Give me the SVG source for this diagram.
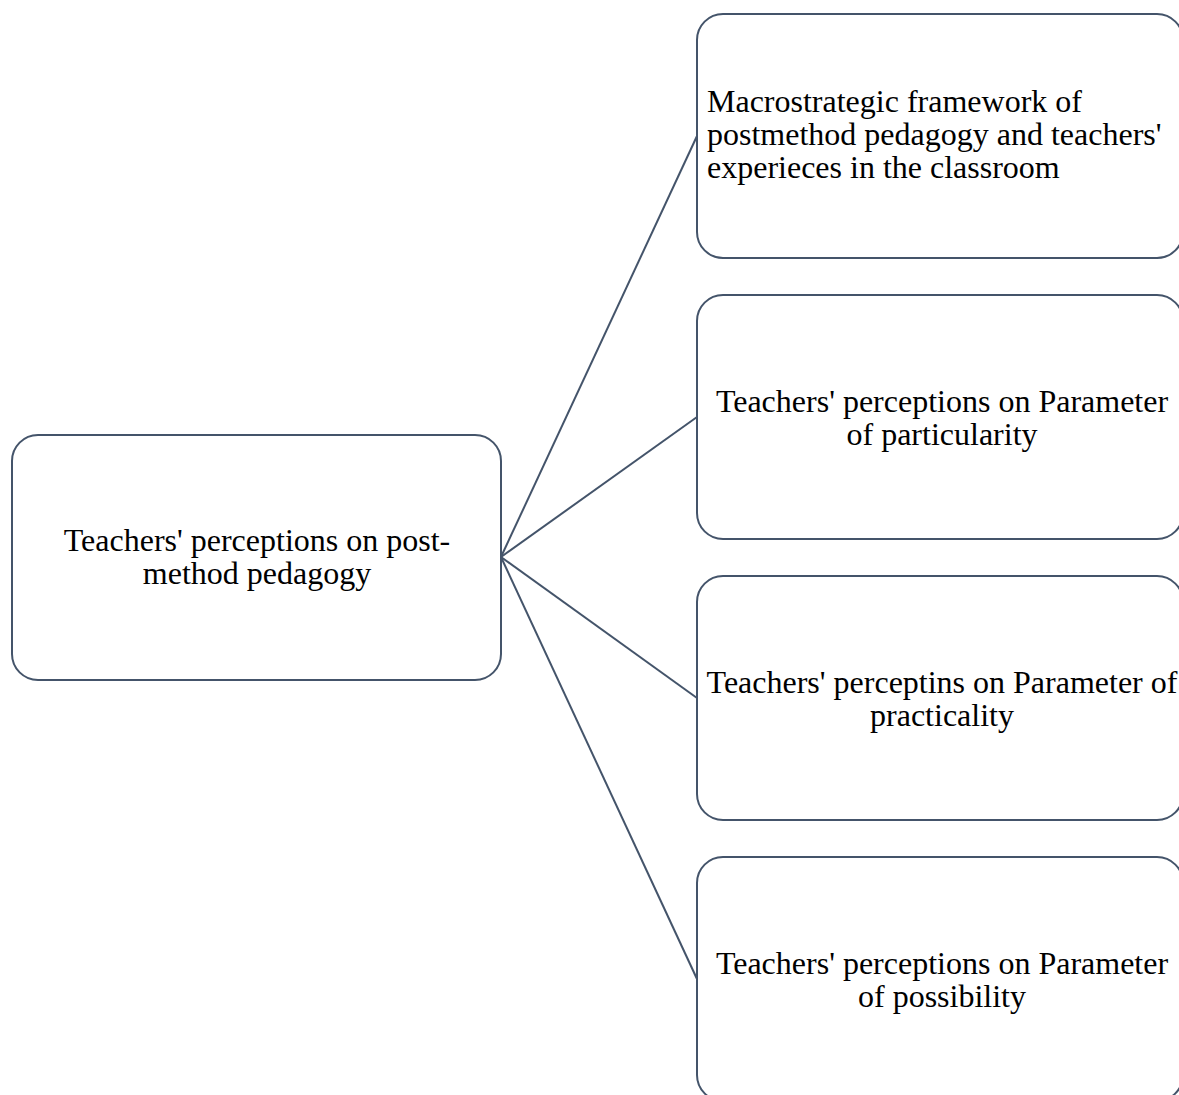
<svg xmlns="http://www.w3.org/2000/svg" width="1179" height="1095" viewBox="0 0 1179 1095">
<style>
.box{fill:#fff;stroke:#44546a;stroke-width:2}
.t{font-family:"Liberation Serif","Times New Roman",serif;font-size:32px;fill:#000}
.c{text-anchor:middle}
.ln{stroke:#44546a;stroke-width:2;fill:none}
</style>
<rect width="1179" height="1095" fill="#fff"/>
<g id="connectors">
<line class="ln" x1="501" y1="557" x2="697" y2="136"/>
<line class="ln" x1="501" y1="557" x2="697" y2="417"/>
<line class="ln" x1="501" y1="557" x2="697" y2="698"/>
<line class="ln" x1="501" y1="557" x2="697" y2="979"/>
</g>
<g id="root">
<rect class="box" x="12" y="435" width="489" height="245" rx="26"/>
<text class="t c" x="257" y="551">Teachers' perceptions on post-</text>
<text class="t c" x="257" y="584">method pedagogy</text>
</g>
<g id="n1">
<rect class="box" x="697" y="14" width="486" height="244" rx="26"/>
<text class="t" x="707" y="112">Macrostrategic framework of</text>
<text class="t" x="707" y="145">postmethod pedagogy and teachers'</text>
<text class="t" x="707" y="178">experieces in the classroom</text>
</g>
<g id="n2">
<rect class="box" x="697" y="295" width="486" height="244" rx="26"/>
<text class="t c" x="942" y="412">Teachers' perceptions on Parameter</text>
<text class="t c" x="942" y="445">of particularity</text>
</g>
<g id="n3">
<rect class="box" x="697" y="576" width="486" height="244" rx="26"/>
<text class="t c" x="942" y="693">Teachers' perceptins on Parameter of</text>
<text class="t c" x="942" y="726">practicality</text>
</g>
<g id="n4">
<rect class="box" x="697" y="857" width="486" height="244" rx="26"/>
<text class="t c" x="942" y="974">Teachers' perceptions on Parameter</text>
<text class="t c" x="942" y="1007">of possibility</text>
</g>
</svg>
